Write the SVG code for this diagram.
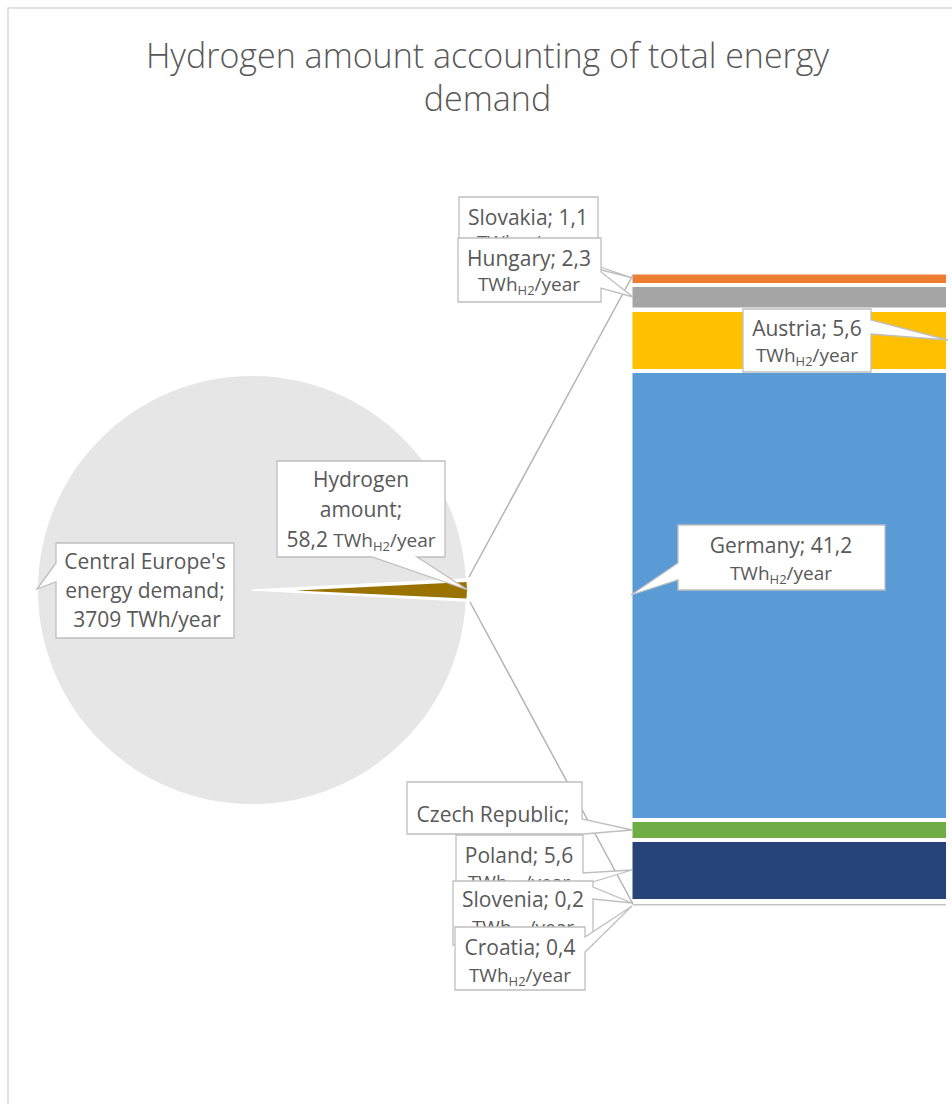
<svg xmlns="http://www.w3.org/2000/svg" width="952" height="1104" viewBox="0 0 952 1104">
<style>
text{font-family:"Open Sans","Liberation Sans",sans-serif;fill:#595959;text-anchor:middle}
.t{font-size:34px;font-weight:300}
.l1{font-size:21px}
.l2{font-size:19px}
.sub{font-size:13px}
.co{fill:#fff;stroke:#bfbfbf;stroke-width:1.3}
.sl{stroke:#b4b4b4;stroke-width:1.5;fill:none}
</style>
<rect x="8" y="8" width="1000" height="1200" fill="#fff" stroke="#d9d9d9" stroke-width="1.5"/>
<g id="title">
<text class="t" x="487.5" y="68">Hydrogen amount accounting of total energy</text>
<text class="t" x="487.5" y="111">demand</text>
</g>
<g id="pie">
<circle cx="252" cy="590" r="214" fill="#e6e6e6"/>
<path d="M252 590 L465.7 579 A214 214 0 0 1 465.7 601 Z" fill="#fff" stroke="#fff" stroke-width="1.5"/>
<path d="M296 590.5 L466.5 582 Q467.5 590 466.5 598.5 Z" fill="#9a7200"/>
</g>
<g id="bar">
<rect x="632.5" y="274.5" width="313.5" height="8.5" fill="#ed7d31"/>
<rect x="632.5" y="287" width="313.5" height="20.5" fill="#a5a5a5"/>
<rect x="632.5" y="312" width="313.5" height="57" fill="#ffc000"/>
<rect x="632.5" y="373" width="313.5" height="445" fill="#5b9bd5"/>
<rect x="632.5" y="822" width="313.5" height="16" fill="#70ad47"/>
<rect x="632.5" y="842" width="313.5" height="57" fill="#264478"/>
<rect x="632.5" y="904" width="313.5" height="1.5" fill="#c4c4c4"/>
</g>
<g id="connectors">
<line class="sl" x1="469" y1="577" x2="633" y2="275"/>
<line class="sl" x1="470" y1="602" x2="633" y2="904"/>
</g>
<g id="label-central-europe">
<path class="co" d="M56 543 H234 V638 H56 V582 L37 589 L56 563 Z"/>
<text class="l1" x="145" y="569">Central Europe's</text>
<text class="l1" x="145" y="598">energy demand;</text>
<text class="l1" x="147" y="627">3709 TWh/year</text>
</g>
<g id="label-hydrogen">
<path class="co" d="M277 461 H445 V557 H417 L468 590 L372 557 H277 Z"/>
<text class="l1" x="361" y="487">Hydrogen</text>
<text class="l1" x="361" y="517">amount;</text>
<text x="361" y="547"><tspan class="l1">58,2 </tspan><tspan font-size="19">TWh</tspan><tspan font-size="13" dy="4">H2</tspan><tspan font-size="19" dy="-4">/year</tspan></text>
</g>
<g id="label-slovakia">
<path class="co" d="M459 197 H598 V262 H585 L633 278 L570 262 H459 Z"/>
<text class="l1" x="528" y="225">Slovakia; 1,1</text>
<text class="l2" x="528" y="249">TWh<tspan class="sub" dy="4">H2</tspan><tspan dy="-4">/year</tspan></text>
</g>
<g id="label-hungary">
<path class="co" d="M458 238 H601 V272 L633 297 L601 288 V302 H458 Z"/>
<text class="l1" x="529" y="266">Hungary; 2,3</text>
<text class="l2" x="529" y="291">TWh<tspan class="sub" dy="4">H2</tspan><tspan dy="-4">/year</tspan></text>
</g>
<g id="label-austria">
<path class="co" d="M743 309 H871 V320 L948 340 L871 334 V372 H743 Z"/>
<text class="l1" x="807" y="336">Austria; 5,6</text>
<text class="l2" x="807" y="362">TWh<tspan class="sub" dy="4">H2</tspan><tspan dy="-4">/year</tspan></text>
</g>
<g id="label-germany">
<path class="co" d="M678 525 H885 V590 H678 V580 L631 595 L678 563 Z"/>
<text class="l1" x="781" y="553">Germany; 41,2</text>
<text class="l2" x="781" y="580">TWh<tspan class="sub" dy="4">H2</tspan><tspan dy="-4">/year</tspan></text>
</g>
<g id="label-czech">
<path class="co" d="M407 782 H582 V819 L632 830 L584 834 H407 Z"/>
<text class="l1" x="493" y="822">Czech Republic;</text>
</g>
<g id="label-poland">
<path class="co" d="M456 835 H583 V873 L632 870 L583 885 V900 H456 Z"/>
<text class="l1" x="519" y="863">Poland; 5,6</text>
<text class="l2" x="519" y="889">TWh<tspan class="sub" dy="4">H2</tspan><tspan dy="-4">/year</tspan></text>
</g>
<g id="label-slovenia">
<path class="co" d="M453 881 H593 V887 L632 903 L593 899 V945 H453 Z"/>
<text class="l1" x="523" y="907">Slovenia; 0,2</text>
<text class="l2" x="523" y="934">TWh<tspan class="sub" dy="4">H2</tspan><tspan dy="-4">/year</tspan></text>
</g>
<g id="label-croatia">
<path class="co" d="M455 927 H585 V937 L632 906 L585 952 V990 H455 Z"/>
<text class="l1" x="520" y="955">Croatia; 0,4</text>
<text class="l2" x="520" y="982">TWh<tspan class="sub" dy="4">H2</tspan><tspan dy="-4">/year</tspan></text>
</g>
</svg>
